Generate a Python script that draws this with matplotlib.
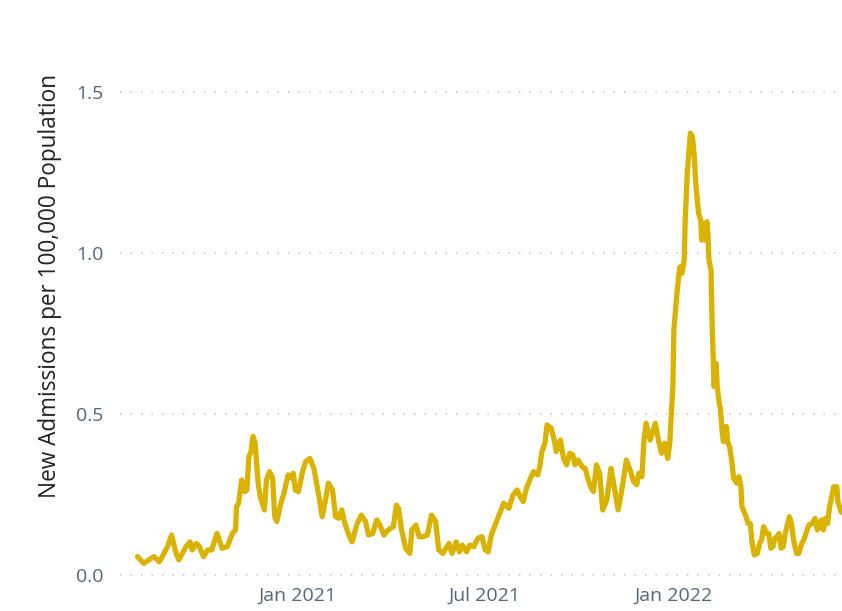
import pandas as pd
import matplotlib
matplotlib.use("Agg")
import matplotlib.pyplot as plt
import matplotlib.dates as mdates

# values
dates = [
    "2020-07-30", "2020-08-05", "2020-08-10", "2020-08-15", "2020-08-20", "2020-08-23",
    "2020-08-28", "2020-09-01", "2020-09-05", "2020-09-08", "2020-09-15", "2020-09-19",
    "2020-09-21", "2020-09-25", "2020-09-28", "2020-10-02", "2020-10-06", "2020-10-10",
    "2020-10-15", "2020-10-20", "2020-10-25", "2020-10-30", "2020-11-02", "2020-11-03",
    "2020-11-05", "2020-11-08", "2020-11-11", "2020-11-13", "2020-11-15", "2020-11-17",
    "2020-11-19", "2020-11-21", "2020-11-24", "2020-11-26", "2020-11-30", "2020-12-02",
    "2020-12-05", "2020-12-08", "2020-12-10", "2020-12-12", "2020-12-16", "2020-12-19",
    "2020-12-23", "2020-12-27", "2020-12-28", "2020-12-30", "2021-01-02", "2021-01-06",
    "2021-01-09", "2021-01-13", "2021-01-17", "2021-01-22", "2021-01-25", "2021-01-28",
    "2021-01-31", "2021-02-04", "2021-02-07", "2021-02-10", "2021-02-13", "2021-02-16",
    "2021-02-20", "2021-02-23", "2021-02-28", "2021-03-04", "2021-03-08", "2021-03-11",
    "2021-03-15", "2021-03-19", "2021-03-22", "2021-03-26", "2021-03-30", "2021-04-04",
    "2021-04-07", "2021-04-09", "2021-04-12", "2021-04-16", "2021-04-20", "2021-04-22",
    "2021-04-26", "2021-04-29", "2021-05-03", "2021-05-07", "2021-05-11", "2021-05-15",
    "2021-05-18", "2021-05-22", "2021-05-25", "2021-05-28", "2021-05-31", "2021-06-04",
    "2021-06-07", "2021-06-10", "2021-06-14", "2021-06-17", "2021-06-21", "2021-06-25",
    "2021-06-29", "2021-07-02", "2021-07-05", "2021-07-08", "2021-07-13", "2021-07-16",
    "2021-07-20", "2021-07-25", "2021-07-29", "2021-08-02", "2021-08-05", "2021-08-08",
    "2021-08-11", "2021-08-15", "2021-08-18", "2021-08-22", "2021-08-24", "2021-08-26",
    "2021-08-29", "2021-08-31", "2021-09-04", "2021-09-07", "2021-09-09", "2021-09-13",
    "2021-09-16", "2021-09-19", "2021-09-22", "2021-09-25", "2021-09-27", "2021-09-30",
    "2021-10-04", "2021-10-07", "2021-10-10", "2021-10-13", "2021-10-15", "2021-10-18",
    "2021-10-21", "2021-10-24", "2021-10-28", "2021-11-01", "2021-11-03", "2021-11-08",
    "2021-11-11", "2021-11-16", "2021-11-20", "2021-11-23", "2021-11-26", "2021-11-28",
    "2021-12-01", "2021-12-03", "2021-12-05", "2021-12-09", "2021-12-14", "2021-12-17",
    "2021-12-20", "2021-12-23", "2021-12-26", "2021-12-28", "2021-12-31", "2022-01-01",
    "2022-01-04", "2022-01-06", "2022-01-07", "2022-01-09", "2022-01-11", "2022-01-12",
    "2022-01-14", "2022-01-16", "2022-01-17", "2022-01-19", "2022-01-21", "2022-01-22",
    "2022-01-24", "2022-01-25", "2022-01-27", "2022-01-28", "2022-01-29", "2022-01-31",
    "2022-02-02", "2022-02-03", "2022-02-04", "2022-02-06", "2022-02-07", "2022-02-09",
    "2022-02-11", "2022-02-12", "2022-02-14", "2022-02-15", "2022-02-17", "2022-02-18",
    "2022-02-21", "2022-02-22", "2022-02-24", "2022-02-26", "2022-02-28", "2022-03-03",
    "2022-03-05", "2022-03-07", "2022-03-08", "2022-03-12", "2022-03-14", "2022-03-16",
    "2022-03-18", "2022-03-20", "2022-03-23", "2022-03-25", "2022-03-27", "2022-03-29",
    "2022-04-01", "2022-04-03", "2022-04-05", "2022-04-07", "2022-04-09", "2022-04-11",
    "2022-04-13", "2022-04-15", "2022-04-17", "2022-04-19", "2022-04-23", "2022-04-25",
    "2022-04-27", "2022-04-30", "2022-05-02", "2022-05-05", "2022-05-07", "2022-05-09",
    "2022-05-12", "2022-05-15", "2022-05-18", "2022-05-20", "2022-05-22", "2022-05-24",
    "2022-05-26", "2022-05-28", "2022-05-30", "2022-06-01", "2022-06-03", "2022-06-05",
    "2022-06-08", "2022-06-09", "2022-06-12", "2022-06-15",
]
admissions = [
    0.057, 0.036, 0.047, 0.057, 0.041, 0.057,
    0.088, 0.124, 0.072, 0.047, 0.088, 0.103,
    0.078, 0.098, 0.088, 0.057, 0.078, 0.078,
    0.129, 0.083, 0.088, 0.129, 0.140, 0.212,
    0.223, 0.295, 0.259, 0.264, 0.367, 0.383,
    0.430, 0.409, 0.285, 0.243, 0.202, 0.295,
    0.321, 0.300, 0.181, 0.166, 0.223, 0.254,
    0.311, 0.300, 0.316, 0.264, 0.259, 0.321,
    0.352, 0.362, 0.331, 0.243, 0.181, 0.228,
    0.285, 0.264, 0.181, 0.176, 0.202, 0.160,
    0.124, 0.103, 0.160, 0.186, 0.166, 0.124,
    0.129, 0.171, 0.155, 0.124, 0.140, 0.150,
    0.217, 0.207, 0.140, 0.083, 0.067, 0.140,
    0.155, 0.119, 0.119, 0.124, 0.186, 0.166,
    0.078, 0.067, 0.083, 0.098, 0.067, 0.103,
    0.072, 0.093, 0.072, 0.093, 0.088, 0.114,
    0.119, 0.078, 0.072, 0.124, 0.166, 0.190,
    0.223, 0.207, 0.248, 0.264, 0.243, 0.228,
    0.269, 0.300, 0.321, 0.311, 0.336, 0.383,
    0.409, 0.466, 0.456, 0.419, 0.383, 0.419,
    0.362, 0.342, 0.378, 0.373, 0.342, 0.357,
    0.336, 0.331, 0.295, 0.269, 0.259, 0.342,
    0.316, 0.202, 0.233, 0.331, 0.295, 0.202,
    0.254, 0.357, 0.321, 0.290, 0.280, 0.316,
    0.305, 0.419, 0.471, 0.419, 0.471, 0.419,
    0.378, 0.409, 0.362, 0.409, 0.585, 0.761,
    0.875, 0.937, 0.957, 0.937, 0.978, 1.102,
    1.248, 1.330, 1.372, 1.361, 1.289, 1.227,
    1.154, 1.123, 1.102, 1.040, 1.092, 1.040,
    1.097, 1.061, 0.978, 0.947, 0.792, 0.585,
    0.657, 0.585, 0.533, 0.518, 0.440, 0.414,
    0.461, 0.414, 0.399, 0.357, 0.300, 0.285,
    0.305, 0.274, 0.212, 0.181, 0.160, 0.160,
    0.098, 0.062, 0.067, 0.098, 0.109, 0.150,
    0.129, 0.129, 0.083, 0.088, 0.114, 0.119,
    0.129, 0.083, 0.088, 0.129, 0.181, 0.160,
    0.109, 0.067, 0.067, 0.098, 0.109, 0.129,
    0.155, 0.160, 0.176, 0.140, 0.150, 0.171,
    0.140, 0.176, 0.160, 0.212, 0.243, 0.274,
    0.274, 0.228, 0.197, 0.190,
]
y_ticks = [0.0, 0.5, 1.0, 1.5]
x_ticks = ["2021-01-01", "2021-07-01", "2022-01-01"]

df = pd.DataFrame({"date": pd.to_datetime(dates), "value": admissions})

plt.rcParams["font.family"] = ["Open Sans", "DejaVu Sans"]

fig = plt.figure(figsize=(8.42, 6.11), dpi=100)
ax = fig.add_axes([0.1425, 0.0491, 0.8575, 0.8854])

ax.plot(df["date"], df["value"], color="#D9B300", lw=3.8,
        solid_joinstyle="round", solid_capstyle="round")

ax.set_xlim(pd.Timestamp("2020-07-13"), pd.Timestamp("2022-06-13"))
ax.set_ylim(-0.0186, 1.661)

ax.set_yticks(y_ticks)
ax.set_yticklabels([f"{v:.1f}" for v in y_ticks])
ax.set_xticks(pd.to_datetime(x_ticks))
ax.xaxis.set_major_formatter(mdates.DateFormatter("%b %Y"))

ax.grid(axis="y", color="#c4c4c4", lw=1.2, linestyle=(0, (0.8, 5.5)))
ax.set_axisbelow(True)
for s in ax.spines.values():
    s.set_visible(False)
ax.tick_params(length=0, labelsize=14, colors="#56677a")
ax.tick_params(axis="y", pad=12)
ax.tick_params(axis="x", pad=4)

ax.set_ylabel("New Admissions per 100,000 Population", fontsize=16.3,
              color="#222222", labelpad=10)
ax.yaxis.label.set_y(0.545)

fig.savefig("out.png", dpi=100)
